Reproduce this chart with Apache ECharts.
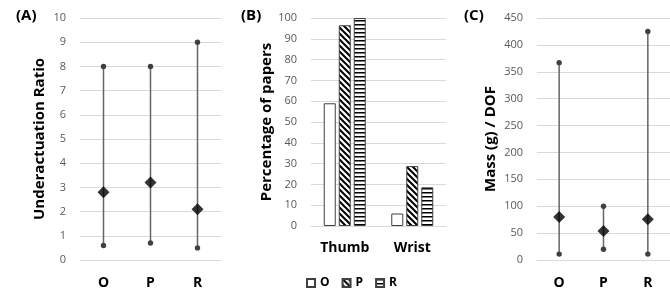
<!DOCTYPE html>
<html>
<head>
<meta charset="utf-8">
<script src="https://cdn.jsdelivr.net/npm/echarts@6/dist/echarts.min.js"></script>
<style>
  html, body { margin: 0; padding: 0; background: #fff; }
  #chart { width: 670px; height: 293px; }
</style>
</head>
<body>
<div id="chart"></div>
<script>
  // panel A / C categories
  var groups = ['O', 'P', 'R'];
  // (A) underactuation ratio: min, max, mean
  var ratioMin = [0.6, 0.7, 0.5];
  var ratioMax = [8, 8, 9];
  var ratioMean = [2.8, 3.2, 2.1];
  // (B) percentage of papers
  var joints = ['Thumb', 'Wrist'];
  var pctO = [59, 6];
  var pctP = [96.5, 28.8];
  var pctR = [100, 18.6];
  // (C) mass per DOF
  var massMin = [11, 20, 11];
  var massMax = [367, 100, 425];
  var massMean = [80, 54, 76];

  var font = '"Open Sans", sans-serif';
  var gridColor = '#d9d9d9';
  var labelColor = '#595959';

  // hatch fills for the bars
  function hatch(kind) {
    var c = document.createElement('canvas');
    var ctx = c.getContext('2d');
    if (kind === 'diag') {
      c.width = 6; c.height = 6;
      ctx.fillStyle = '#fff';
      ctx.fillRect(0, 0, 6, 6);
      ctx.strokeStyle = '#000';
      ctx.lineWidth = 2;
      ctx.beginPath();
      ctx.moveTo(-1, -1); ctx.lineTo(7, 7);
      ctx.moveTo(-4, 2); ctx.lineTo(4, 10);
      ctx.moveTo(2, -4); ctx.lineTo(10, 4);
      ctx.stroke();
    } else {
      c.width = 4; c.height = 4;
      ctx.fillStyle = '#fff';
      ctx.fillRect(0, 0, 4, 4);
      ctx.fillStyle = '#000';
      ctx.fillRect(0, 0, 4, 1.5);
    }
    return { image: c, repeat: 'repeat' };
  }

  function rangeSeries(idx, mins, maxs) {
    var data = mins.map(function (v, i) { return [i, v, maxs[i]]; });
    return {
      type: 'custom',
      xAxisIndex: idx, yAxisIndex: idx,
      encode: { x: 0, y: [1, 2] },
      data: data,
      z: 2,
      renderItem: function (params, api) {
        var lo = api.coord([api.value(0), api.value(1)]);
        var hi = api.coord([api.value(0), api.value(2)]);
        return {
          type: 'group',
          children: [
            { type: 'line', shape: { x1: lo[0], y1: lo[1], x2: hi[0], y2: hi[1] },
              style: { stroke: '#666', lineWidth: 1.5 } },
            { type: 'circle', shape: { cx: lo[0], cy: lo[1], r: 2.7 }, style: { fill: '#404040' } },
            { type: 'circle', shape: { cx: hi[0], cy: hi[1], r: 2.7 }, style: { fill: '#404040' } }
          ]
        };
      }
    };
  }

  function meanSeries(idx, vals) {
    return {
      type: 'scatter',
      xAxisIndex: idx, yAxisIndex: idx,
      symbol: 'diamond',
      symbolSize: 12,
      itemStyle: { color: '#000' },
      z: 3,
      data: vals.map(function (v, i) { return [i, v]; })
    };
  }

  function catAxis(idx, cats, margin) {
    return {
      type: 'category', gridIndex: idx, data: cats,
      axisLine: { lineStyle: { color: gridColor } },
      axisTick: { show: false },
      axisLabel: { margin: margin, color: '#000', fontFamily: font, fontWeight: 'bold', fontSize: 14 }
    };
  }

  function valAxis(idx, max, step, name, gap) {
    return {
      type: 'value', gridIndex: idx, min: 0, max: max, interval: step,
      name: name, nameLocation: 'middle', nameGap: gap,
      nameTextStyle: { color: '#000', fontFamily: font, fontWeight: 'bold', fontSize: 15 },
      axisLine: { show: false },
      axisTick: { show: false },
      splitLine: { lineStyle: { color: gridColor } },
      axisLabel: { margin: 14, color: labelColor, fontFamily: font, fontSize: 11 }
    };
  }

  var barBase = {
    type: 'bar', xAxisIndex: 1, yAxisIndex: 1,
    barWidth: 12, barGap: '25%'
  };

  var chart = echarts.init(document.getElementById('chart'));
  chart.setOption({
    animation: false,
    grid: [
      { left: 80, right: 449, top: 18, bottom: 33 },
      { left: 311, right: 224, top: 18, bottom: 67 },
      { left: 537, right: 0, top: 18, bottom: 33 }
    ],
    xAxis: [
      catAxis(0, groups, 16),
      catAxis(1, joints, 15),
      catAxis(2, groups, 16)
    ],
    yAxis: [
      valAxis(0, 10, 1, 'Underactuation Ratio', 33),
      valAxis(1, 100, 10, 'Percentage of papers', 37),
      valAxis(2, 450, 50, 'Mass (g) / DOF', 39)
    ],
    legend: {
      left: 301, top: 272,
      itemWidth: 8, itemHeight: 8, itemGap: 12,
      icon: 'rect',
      textStyle: { color: '#000', fontFamily: font, fontWeight: 'bold', fontSize: 12 },
      data: ['O', 'P', 'R']
    },
    graphic: [
      { type: 'text', left: 16, top: 8, style: { text: '(A)', font: 'bold 15px ' + font, fill: '#000' } },
      { type: 'text', left: 241, top: 8, style: { text: '(B)', font: 'bold 15px ' + font, fill: '#000' } },
      { type: 'text', left: 464, top: 8, style: { text: '(C)', font: 'bold 15px ' + font, fill: '#000' } }
    ],
    series: [
      rangeSeries(0, ratioMin, ratioMax),
      meanSeries(0, ratioMean),
      Object.assign({}, barBase, { name: 'O', data: pctO,
        itemStyle: { color: '#fff', borderColor: '#404040', borderWidth: 1 } }),
      Object.assign({}, barBase, { name: 'P', data: pctP,
        itemStyle: { color: hatch('diag'), borderColor: '#404040', borderWidth: 1 } }),
      Object.assign({}, barBase, { name: 'R', data: pctR,
        itemStyle: { color: hatch('horiz'), borderColor: '#404040', borderWidth: 1 } }),
      rangeSeries(2, massMin, massMax),
      meanSeries(2, massMean)
    ]
  });
</script>
</body>
</html>
